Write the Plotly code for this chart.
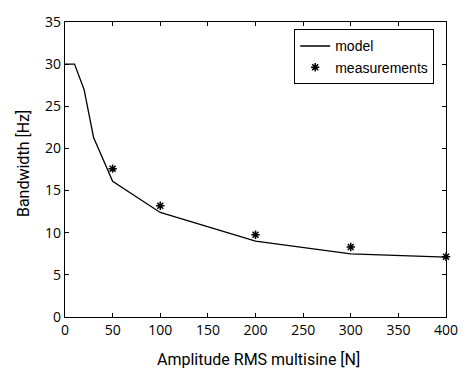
import plotly.graph_objects as go

model_x = [0, 10, 20, 30, 50, 100, 200, 300, 400]
model_y = [30.0, 30.0, 27.0, 21.3, 16.1, 12.4, 9.0, 7.5, 7.1]
meas_x = [50, 100, 200, 300, 400]
meas_y = [17.6, 13.2, 9.75, 8.3, 7.15]
x_ticks = [0, 50, 100, 150, 200, 250, 300, 350, 400]
y_ticks = [0, 5, 10, 15, 20, 25, 30, 35]
x_title = "Amplitude RMS multisine [N]"
y_title = "Bandwidth [Hz]"

fig = go.Figure()
fig.add_trace(go.Scatter(x=model_x, y=model_y, mode="lines", name="model",
                         line=dict(color="black", width=1.3)))
fig.add_trace(go.Scatter(x=meas_x, y=meas_y, mode="markers", name="measurements",
                         marker=dict(symbol="asterisk-open", size=7, color="black",
                                     line=dict(color="black", width=1.5)),
                         cliponaxis=False))

axis_common = dict(showline=True, linecolor="black", linewidth=1.3, mirror="ticks",
                   ticks="inside", ticklen=4, tickcolor="black", showgrid=False,
                   zeroline=False, tickfont=dict(family="Open Sans", size=14, color="black"))

fig.update_layout(
    width=470, height=371,
    margin=dict(l=65, r=21, t=15, b=54),
    paper_bgcolor="white", plot_bgcolor="white",
    xaxis=dict(range=[0, 400], tickvals=x_ticks, **axis_common),
    yaxis=dict(range=[0, 35], tickvals=y_ticks, **axis_common),
    legend=dict(x=0.969, y=0.975, xanchor="right", yanchor="top",
                bordercolor="black", borderwidth=1, bgcolor="white",
                font=dict(family="Liberation Sans", size=14, color="black"),
                tracegroupgap=0, itemwidth=30),
    showlegend=True,
)

fig.add_annotation(text=x_title, xref="paper", yref="paper", x=0.508, y=-0.143,
                   xanchor="center", yanchor="middle", showarrow=False,
                   font=dict(family="Roboto", size=16, color="black"))
fig.add_annotation(text=y_title, xref="paper", yref="paper", x=-0.109, y=0.52,
                   xanchor="center", yanchor="middle", showarrow=False, textangle=-90,
                   font=dict(family="Roboto", size=16, color="black"))

fig.write_html("out.html")
